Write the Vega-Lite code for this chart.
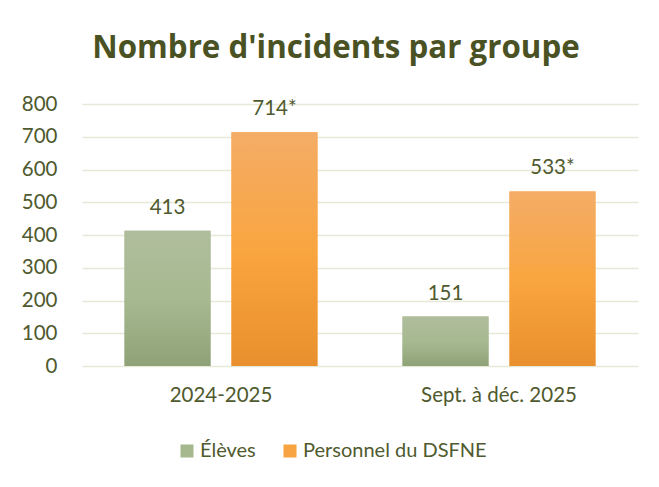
{
  "$schema": "https://vega.github.io/schema/vega-lite/v6.json",
  "width": 556,
  "height": 262,
  "autosize": {"type": "none"},
  "padding": {"left": 82, "top": 104, "right": 21, "bottom": 121},
  "background": "white",
  "title": {
    "text": "Nombre d'incidents par groupe",
    "anchor": "middle",
    "frame": "group",
    "dx": -24,
    "offset": 5,
    "baseline": "alphabetic",
    "fontSize": 31.3,
    "fontWeight": "bold",
    "font": "Open Sans",
    "color": "#4a5224"
  },
  "data": {
    "values": [
      {"periode": "2024-2025", "groupe": "Élèves", "n": 413, "label": "413"},
      {"periode": "2024-2025", "groupe": "Personnel du DSFNE", "n": 714, "label": "714*"},
      {"periode": "Sept. à déc. 2025", "groupe": "Élèves", "n": 151, "label": "151"},
      {"periode": "Sept. à déc. 2025", "groupe": "Personnel du DSFNE", "n": 533, "label": "533*"}
    ]
  },
  "encoding": {
    "x": {
      "field": "periode",
      "type": "nominal",
      "sort": ["2024-2025", "Sept. à déc. 2025"],
      "scale": {"paddingInner": 0.306, "paddingOuter": 0.153},
      "axis": {
        "title": null,
        "labelAngle": 0,
        "domain": false,
        "ticks": false,
        "labelPadding": 19,
        "labelFontSize": 20.5,
        "labelColor": "#4f5a2e",
        "labelFont": "Lato"
      }
    },
    "xOffset": {
      "field": "groupe",
      "type": "nominal",
      "scale": {"domain": ["Élèves", "Personnel du DSFNE"], "paddingInner": 0.196, "paddingOuter": 0}
    },
    "y": {
      "field": "n",
      "type": "quantitative",
      "scale": {"domain": [0, 800], "nice": false},
      "axis": {
        "title": null,
        "values": [0, 100, 200, 300, 400, 500, 600, 700, 800],
        "domain": false,
        "ticks": false,
        "labelPadding": 25,
        "labelFontSize": 20.5,
        "labelColor": "#4f5a2e",
        "labelFont": "Lato",
        "gridColor": "#e6e8d8",
        "gridWidth": 1.5
      }
    }
  },
  "layer": [
    {
      "mark": {"type": "bar"},
      "encoding": {
        "color": {
          "field": "groupe",
          "type": "nominal",
          "scale": {"domain": ["Élèves", "Personnel du DSFNE"], "range": ["#a5b88e", "#f9a443"]},
          "legend": {
            "title": null,
            "orient": "none",
            "direction": "horizontal",
            "legendX": 95,
            "legendY": 337,
            "symbolType": "square",
            "symbolSize": 170,
            "symbolStrokeWidth": 0,
            "labelFontSize": 20,
            "labelColor": "#4f5a2e",
            "labelFont": "Lato",
            "labelOffset": 3,
            "labelLimit": 400,
            "columnPadding": 24
          }
        }
      }
    },
    {
      "transform": [{"filter": "datum.groupe === 'Élèves'"}],
      "mark": {
        "type": "bar",
        "fill": {
          "gradient": "linear", "x1": 0, "y1": 0, "x2": 0, "y2": 1,
          "stops": [
            {"offset": 0, "color": "#b0bd9d"},
            {"offset": 0.5, "color": "#a6b990"},
            {"offset": 1, "color": "#8fa277"}
          ]
        }
      }
    },
    {
      "transform": [{"filter": "datum.groupe === 'Personnel du DSFNE'"}],
      "mark": {
        "type": "bar",
        "fill": {
          "gradient": "linear", "x1": 0, "y1": 0, "x2": 0, "y2": 1,
          "stops": [
            {"offset": 0, "color": "#f4ad67"},
            {"offset": 0.5, "color": "#f9a540"},
            {"offset": 1, "color": "#e8902d"}
          ]
        }
      }
    },
    {
      "mark": {
        "type": "text",
        "baseline": "alphabetic",
        "dy": -17,
        "fontSize": 20.5,
        "font": "Lato",
        "color": "#4f5a2e"
      },
      "encoding": {"text": {"field": "label"}}
    }
  ],
  "config": {"view": {"stroke": null}}
}
